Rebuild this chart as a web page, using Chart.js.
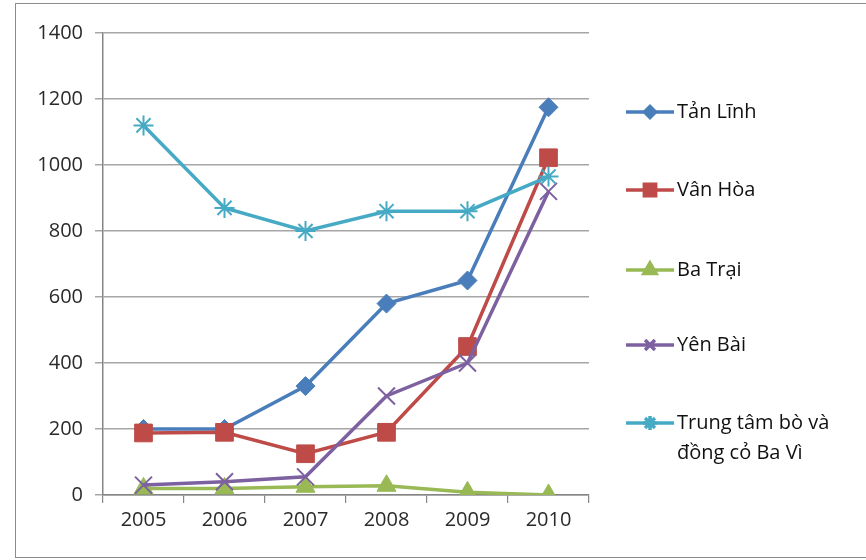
<!DOCTYPE html>
<html>
<head>
<meta charset="utf-8">
<script src="https://cdn.jsdelivr.net/npm/chart.js@4"></script>
<style>
html,body{margin:0;padding:0;background:#fff;}
#wrap{position:relative;width:866px;height:560px;}
#frame{position:absolute;left:15px;top:3px;width:860px;height:555px;border:1.5px solid #8c8c8c;box-sizing:border-box;pointer-events:none;}
canvas{position:absolute;left:0;top:0;}
</style>
</head>
<body>
<div id="wrap"><canvas id="c" width="866" height="560"></canvas><div id="frame"></div></div>
<script>
const categories = ["2005","2006","2007","2008","2009","2010"];
const seriesNames = ["Tản Lĩnh","Vân Hòa","Ba Trại","Yên Bài",["Trung tâm bò và","đồng cỏ Ba Vì"]];
const tanLinh   = [200, 200, 330, 580, 650, 1175];
const vanHoa    = [188, 190, 125, 190, 450, 1022];
const baTrai    = [20, 20, 25, 28, 8, 0];
const yenBai    = [30, 40, 55, 300, 400, 920];
const trungTam  = [1120, 870, 800, 860, 860, 965];
const yTicks    = [0,200,400,600,800,1000,1200,1400];

const colors  = ["#4a7ebb","#be4b48","#98b954","#7d60a0","#46aac5"];
const markers = ["rectRot","rect","triangle","crossRot","star"];
const mSizes  = [9.5,12.5,11,12,10];
const legSizes= [5.5,8,7,7,7];
const allData = [tanLinh, vanHoa, baTrai, yenBai, trungTam];

const FONT = "'Open Sans', 'Liberation Sans', Arial, sans-serif";

const isLine = m => (m==="crossRot"||m==="star");

const datasets = allData.map((d,i)=>({
  label: Array.isArray(seriesNames[i]) ? seriesNames[i].join(" ") : seriesNames[i],
  data: d,
  borderColor: colors[i],
  backgroundColor: colors[i],
  pointBackgroundColor: colors[i],
  pointBorderColor: colors[i],
  pointStyle: markers[i],
  pointRadius: mSizes[i],
  pointBorderWidth: isLine(markers[i]) ? 2 : 1,
  borderWidth: 3.5,
  tension: 0,
  fill: false,
  order: 5-i
}));

const legendPlugin = {
  id:'customLegend',
  afterDraw(chart){
    const ctx = chart.ctx;
    const ys = [112, 190, 270, 345, 423];
    ctx.save();
    for(let i=0;i<seriesNames.length;i++){
      const y = ys[i];
      ctx.strokeStyle = colors[i];
      ctx.lineWidth = 3.5;
      ctx.beginPath(); ctx.moveTo(626,y); ctx.lineTo(674,y); ctx.stroke();
      ctx.fillStyle = colors[i];
      ctx.strokeStyle = colors[i];
      Chart.helpers.drawPoint(ctx, {pointStyle: markers[i], radius: legSizes[i], borderWidth: isLine(markers[i]) ? 1.2 : 1}, 650, y);
      ctx.fillStyle = "#111";
      ctx.font = "20px " + FONT;
      ctx.textBaseline = "middle";
      ctx.textAlign = "left";
      const lines = Array.isArray(seriesNames[i]) ? seriesNames[i] : [seriesNames[i]];
      lines.forEach((t,k)=>ctx.fillText(t, 677, y + k*30));
    }
    ctx.restore();
  }
};

new Chart(document.getElementById('c'), {
  type:'line',
  data:{ labels: categories, datasets },
  options:{
    responsive:false,
    animation:false,
    devicePixelRatio:1,
    layout:{ padding:{ left:20, right:277, top:33, bottom:14 } },
    plugins:{ legend:{display:false}, tooltip:{enabled:false} },
    scales:{
      x:{
        offset:true,
        grid:{ offset:true, drawOnChartArea:false, drawTicks:true, tickLength:8, color:"#868686", lineWidth:1.2 },
        border:{ display:true, color:"#868686", width:1.5 },
        ticks:{ color:"#2a2a2a", font:{ family:FONT, size:20 }, padding:5 },
        afterFit(s){ s.height = 560-495-14; }
      },
      y:{
        min:0, max:1400,
        afterBuildTicks(s){ s.ticks = yTicks.map(v=>({value:v})); },
        grid:{ color:"#a6a6a6", lineWidth:1.5, tickLength:8, drawTicks:true },
        border:{ display:true, color:"#868686", width:1.5 },
        ticks:{ color:"#2a2a2a", font:{ family:FONT, size:20 }, padding:12, callback:(v)=>String(v) },
        afterFit(s){ s.width = 103-20; }
      }
    }
  },
  plugins:[legendPlugin]
});
</script>
</body>
</html>
